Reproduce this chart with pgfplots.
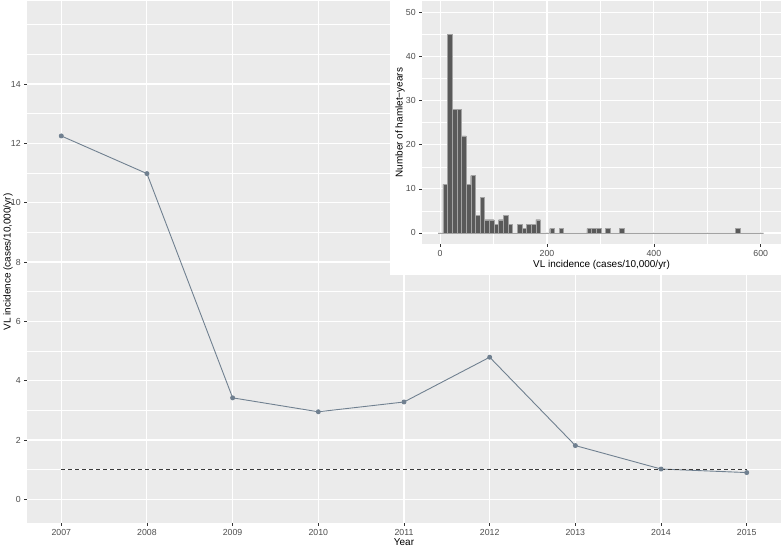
\documentclass[border=0pt]{standalone}
\usepackage{fontspec}
\setmainfont{Liberation Sans}
\usepackage{pgfplots}
\pgfplotsset{compat=1.18}

\definecolor{panelbg}{HTML}{EBEBEB}
\definecolor{ticktext}{HTML}{4D4D4D}
\definecolor{tickline}{HTML}{333333}
\definecolor{linecol}{HTML}{708090}
\definecolor{dashcol}{HTML}{3A3A3A}
\definecolor{barfill}{HTML}{595959}
\definecolor{barline}{HTML}{A3A3A3}

% ggplot-like grey theme
\pgfplotsset{ggstyle/.style={
  scale only axis,
  axis background/.style={fill=panelbg},
  axis line style={draw=none},
  grid=both,
  major grid style={white, line width=1.1pt},
  minor grid style={white, line width=0.55pt},
  tick align=outside, tick pos=left,
  major tick length=2.75pt, minor tick length=0pt,
  tick style={tickline, line width=0.55pt},
  ticklabel style={font=\fontsize{8.8}{10}\selectfont, text=ticktext},
  /pgf/number format/assume math mode=true,
  /pgf/number format/1000 sep={},
  label style={font=\fontsize{10.5}{12.5}\selectfont},
}}

\begin{document}
\begin{tikzpicture}
\path[use as bounding box] (-27bp,-25bp) rectangle (754bp,523bp);

% main panel: incidence by year
\begin{axis}[ggstyle,
  at={(0,0)}, anchor=south west,
  width=754bp, height=522bp,
  xmin=2006.6, xmax=2015.4, ymin=-0.8, ymax=16.8,
  xtick={2007,...,2015}, ytick={0,2,...,14},
  minor xtick={}, minor ytick={1,3,...,15,16},
  xlabel={Year}, ylabel={VL incidence (cases/10,000/yr)},
  every axis x label/.style={at={(axis description cs:0.5,0)}, yshift=-19bp, anchor=center},
  every axis y label/.style={at={(axis description cs:0,0.5)}, xshift=-19bp, rotate=90, anchor=center},
]
\addplot[linecol, line width=0.9pt, mark=*, mark size=2pt,
  mark options={fill=linecol, draw=linecol}] coordinates {
  (2007,12.25) (2008,10.98) (2009,3.42) (2010,2.95) (2011,3.28)
  (2012,4.79) (2013,1.81) (2014,1.02) (2015,0.90)};
\addplot[dashcol, line width=0.9pt, dash pattern=on 4pt off 3pt] coordinates {(2007,1) (2015,1)};
\end{axis}

\fill[white] (363bp,248bp) rectangle (754bp,523bp);

% inset: histogram of hamlet-years
\begin{axis}[ggstyle,
  at={(395bp,279bp)}, anchor=south west,
  width=359bp, height=242.7bp,
  xmin=-34, xmax=638, ymin=-2.5, ymax=52.5,
  xtick={0,200,400,600}, minor xtick={100,300,500},
  ytick={0,10,...,50}, minor ytick={5,15,...,45},
  xlabel={VL incidence (cases/10,000/yr)}, ylabel={Number of hamlet−years},
  every axis x label/.style={at={(axis description cs:0.5,0)}, yshift=-21bp, anchor=center},
  every axis y label/.style={at={(axis description cs:0,0.5)}, xshift=-22bp, rotate=90, anchor=center},
]
\addplot[ybar, bar width=8.7, bar shift=0pt, fill=barfill, draw=barline, line width=0.4pt] coordinates {
  (0.65,0) (9.35,11) (18.05,45) (26.75,28) (35.45,28) (44.15,22) (52.85,11)
  (61.55,13) (70.25,4) (78.95,8) (87.65,3) (96.35,3) (105.05,2) (113.75,3)
  (122.45,4) (131.15,2) (139.85,0) (148.55,2) (157.25,1) (165.95,2) (174.65,2)
  (183.35,3) (192.05,0) (200.75,0) (209.45,1) (218.15,0) (226.85,1) (235.55,0)
  (244.25,0) (252.95,0) (261.65,0) (270.35,0) (279.05,1) (287.75,1) (296.45,1)
  (305.15,0) (313.85,1) (322.55,0) (331.25,0) (339.95,1) (348.65,0) (357.35,0)
  (366.05,0) (374.75,0) (383.45,0) (392.15,0) (400.85,0) (409.55,0) (418.25,0)
  (426.95,0) (435.65,0) (444.35,0) (453.05,0) (461.75,0) (470.45,0) (479.15,0)
  (487.85,0) (496.55,0) (505.25,0) (513.95,0) (522.65,0) (531.35,0) (540.05,0)
  (548.75,0) (557.45,1) (566.15,0) (574.85,0) (583.55,0) (592.25,0) (600.95,0)};
\end{axis}
\end{tikzpicture}
\end{document}
